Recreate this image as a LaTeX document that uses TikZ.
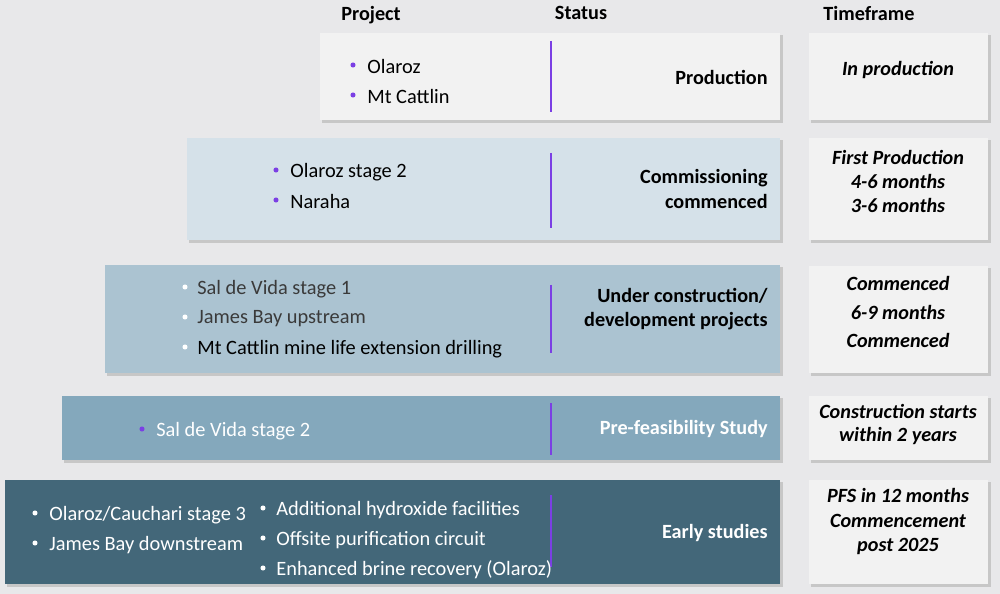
\documentclass[tikz,border=0pt]{standalone}
\usepackage{fontspec}
\setmainfont{Carlito}
\definecolor{pagebg}{HTML}{E8E8EA}
\definecolor{rowone}{HTML}{F2F2F2}
\definecolor{rowtwo}{HTML}{D5E1E9}
\definecolor{rowthree}{HTML}{ABC3D1}
\definecolor{rowfour}{HTML}{84A8BC}
\definecolor{rowfive}{HTML}{436779}
\definecolor{markpurple}{HTML}{7B3FE4}
\definecolor{softink}{HTML}{3A3A3A}
\tikzset{
  slabshade/.style={fill=black!22},
  slab/.style={fill=#1},
  divider/.style={draw=markpurple, line width=1.1pt},
  dot/.style={circle, fill=#1, inner sep=0pt, minimum size=2.9pt},
  item/.style={anchor=west, inner sep=0pt, font=\fontsize{11.6}{14}\selectfont},
  status/.style={anchor=east, inner sep=0pt, font=\fontsize{11.5}{14}\selectfont\bfseries},
  timing/.style={inner sep=0pt, font=\fontsize{11.5}{14}\selectfont\bfseries\itshape},
  colhead/.style={inner sep=0pt, font=\fontsize{11.5}{14}\selectfont\bfseries},
}

\begin{document}
\begin{tikzpicture}[x=0.02cm, y=-0.02cm]
\useasboundingbox (0,0) rectangle (1000,594);
\fill[pagebg] (0,0) rectangle (1000,594);
% column heads
\node[colhead] (hproject) at (371,15) {Project};
\node[colhead] (hstatus) at (581,13) {Status};
\node[colhead] (htime) at (869,13) {Timeframe};
% shadows
\fill[slabshade] (322,35) rectangle (783,123);
\fill[slabshade] (189,140) rectangle (783,243);
\fill[slabshade] (107,267) rectangle (783,376);
\fill[slabshade] (64,398) rectangle (783,463);
\fill[slabshade] (7,482) rectangle (783,587);
\fill[slabshade] (811,35) rectangle (991,123);
\fill[slabshade] (811,140) rectangle (991,243);
\fill[slabshade] (811,268) rectangle (991,376);
\fill[slabshade] (811,398) rectangle (991,463);
\fill[slabshade] (811,482) rectangle (991,587);
% slabs
\fill[slab=rowone] (320,33) rectangle (780,120);
\fill[slab=rowtwo] (187,138) rectangle (780,240);
\fill[slab=rowthree] (105,265) rectangle (780,373);
\fill[slab=rowfour] (62,396) rectangle (780,460);
\fill[slab=rowfive] (5,480) rectangle (780,584);
\fill[slab=rowone] (809,33) rectangle (988,120);
\fill[slab=rowone] (809,138) rectangle (988,240);
\fill[slab=rowone] (809,266) rectangle (988,373);
\fill[slab=rowone] (809,396) rectangle (988,460);
\fill[slab=rowone] (809,480) rectangle (988,584);
% dividers
\draw[divider] (551,41) -- (551,112);
\draw[divider] (551,153) -- (551,228);
\draw[divider] (551,285) -- (551,353);
\draw[divider] (551,403) -- (551,455);
\draw[divider] (551,495) -- (551,567);

% row 1
\node[dot=markpurple] (d1a) at (353,65) {};
\node[item] (p1a) at (367,67) {Olaroz};
\node[dot=markpurple] (d1b) at (353,95) {};
\node[item] (p1b) at (367,97) {Mt Cattlin};
\node[status] (s1) at (768,77) {Production};
\node[timing] (t1) at (898,70) {In production};

% row 2
\node[dot=markpurple] (d2a) at (276,170) {};
\node[item] (p2a) at (290,172) {Olaroz stage 2};
\node[dot=markpurple] (d2b) at (276,200) {};
\node[item] (p2b) at (290,202) {Naraha};
\node[status] (s2a) at (768,178) {Commissioning};
\node[status] (s2b) at (768,201) {commenced};
\node[timing] (t2a) at (898,157) {First Production};
\node[timing] (t2b) at (898,181) {4-6 months};
\node[timing] (t2c) at (898,205) {3-6 months};

% row 3
\node[dot=white] (d3a) at (185,287) {};
\node[item, text=softink] (p3a) at (197,289) {Sal de Vida stage 1};
\node[dot=white] (d3b) at (185,317) {};
\node[item, text=softink] (p3b) at (197,319) {James Bay upstream};
\node[dot=white] (d3c) at (185,347) {};
\node[item] (p3c) at (197,349) {Mt Cattlin mine life extension drilling};
\node[status] (s3a) at (768,296) {Under construction/};
\node[status] (s3b) at (768,321) {development projects};
\node[timing] (t3a) at (898,283) {Commenced};
\node[timing] (t3b) at (898,312) {6-9 months};
\node[timing] (t3c) at (898,340) {Commenced};

% row 4
\node[dot=markpurple] (d4a) at (142,429) {};
\node[item, text=white] (p4a) at (156,431) {Sal de Vida stage 2};
\node[status, text=white] (s4) at (768,429) {Pre-feasibility Study};
\node[timing] (t4a) at (898,411) {Construction starts};
\node[timing] (t4b) at (898,436) {within 2 years};

% row 5
\node[dot=white] (d5a) at (35,513) {};
\node[item, text=white] (p5a) at (49,515) {Olaroz/Cauchari stage 3};
\node[dot=white] (d5b) at (35,543) {};
\node[item, text=white] (p5b) at (49,545) {James Bay downstream};
\node[dot=white] (d5c) at (263,508) {};
\node[item, text=white] (p5c) at (276,510) {Additional hydroxide facilities};
\node[dot=white] (d5d) at (263,538) {};
\node[item, text=white] (p5d) at (276,540) {Offsite purification circuit};
\node[dot=white] (d5e) at (263,568) {};
\node[item, text=white] (p5e) at (276,570) {Enhanced brine recovery (Olaroz)};
\node[status, text=white] (s5) at (768,533) {Early studies};
\node[timing] (t5a) at (898,495) {PFS in 12 months};
\node[timing] (t5b) at (898,521) {Commencement};
\node[timing] (t5c) at (898,546) {post 2025};
\end{tikzpicture}
\end{document}
